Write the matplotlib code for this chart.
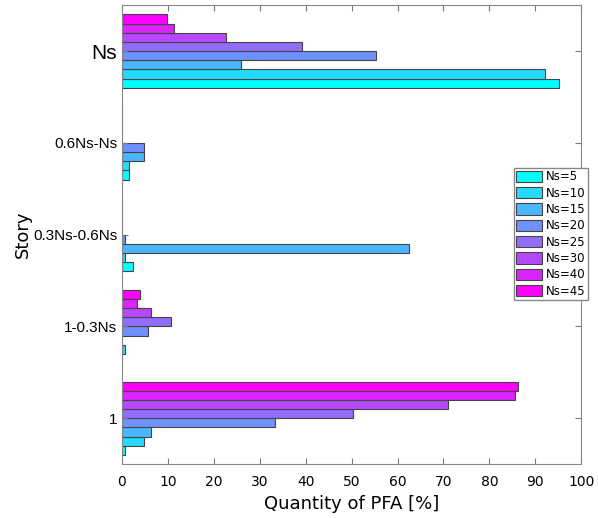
import matplotlib
matplotlib.use("Agg")
import matplotlib.pyplot as plt
import numpy as np

# data
stories = ["1", "1-0.3Ns", "0.3Ns-0.6Ns", "0.6Ns-Ns", "Ns"]
series = ["Ns=5", "Ns=10", "Ns=15", "Ns=20", "Ns=25", "Ns=30", "Ns=40", "Ns=45"]
# rows follow series, columns follow stories
ns5 = [0.75, 0.0, 2.35, 1.5, 95.2]
ns10 = [4.8, 0.75, 0.75, 1.5, 92.0]
ns15 = [6.35, 0.0, 62.6, 4.9, 26.0]
ns20 = [33.3, 5.7, 0.75, 4.75, 55.3]
ns25 = [50.4, 10.6, 0.0, 0.0, 39.1]
ns30 = [70.9, 6.4, 0.0, 0.0, 22.7]
ns40 = [85.5, 3.2, 0.0, 0.0, 11.4]
ns45 = [86.3, 4.0, 0.0, 0.0, 9.7]
values = [ns5, ns10, ns15, ns20, ns25, ns30, ns40, ns45]

colors = plt.cm.cool(np.linspace(0, 1, len(series)))

fig = plt.figure(figsize=(5.98, 5.18), dpi=100)
ax = fig.add_axes([0.204, 0.104, 0.768, 0.886])

y = np.arange(len(stories))
h = 0.1
for i, (name, vals) in enumerate(zip(series, values)):
    ax.barh(y + (i - 3.5) * h, vals, height=h, color=colors[i],
            edgecolor="#444444", linewidth=0.8, label=name)

ax.set_xlim(0, 100)
ax.set_ylim(-0.5, 4.5)
ax.set_xticks(np.arange(0, 101, 10))
ax.set_yticks(y)
ax.set_yticklabels(stories, fontsize=11, family="Liberation Sans")
for lab in ax.get_yticklabels():
    if lab.get_text() == "Ns":
        lab.set_fontsize(15)
ax.tick_params(axis="x", labelsize=10, direction="in", top=True, length=4,
               color="#777777", pad=8)
ax.tick_params(axis="y", direction="in", right=True, length=4, color="#777777")
for s in ax.spines.values():
    s.set_color("#888888")

ax.set_xlabel("Quantity of PFA [%]", fontsize=13, labelpad=4)
ax.set_ylabel("Story", fontsize=13, labelpad=1)

ax.legend(loc="upper left", bbox_to_anchor=(0.84, 0.658), fontsize=8.5,
          handlelength=2.2, handleheight=1.1, handletextpad=0.3,
          labelspacing=0.28, borderpad=0.2, fancybox=False,
          edgecolor="#888888", framealpha=1)

fig.savefig("out.png", dpi=100)
